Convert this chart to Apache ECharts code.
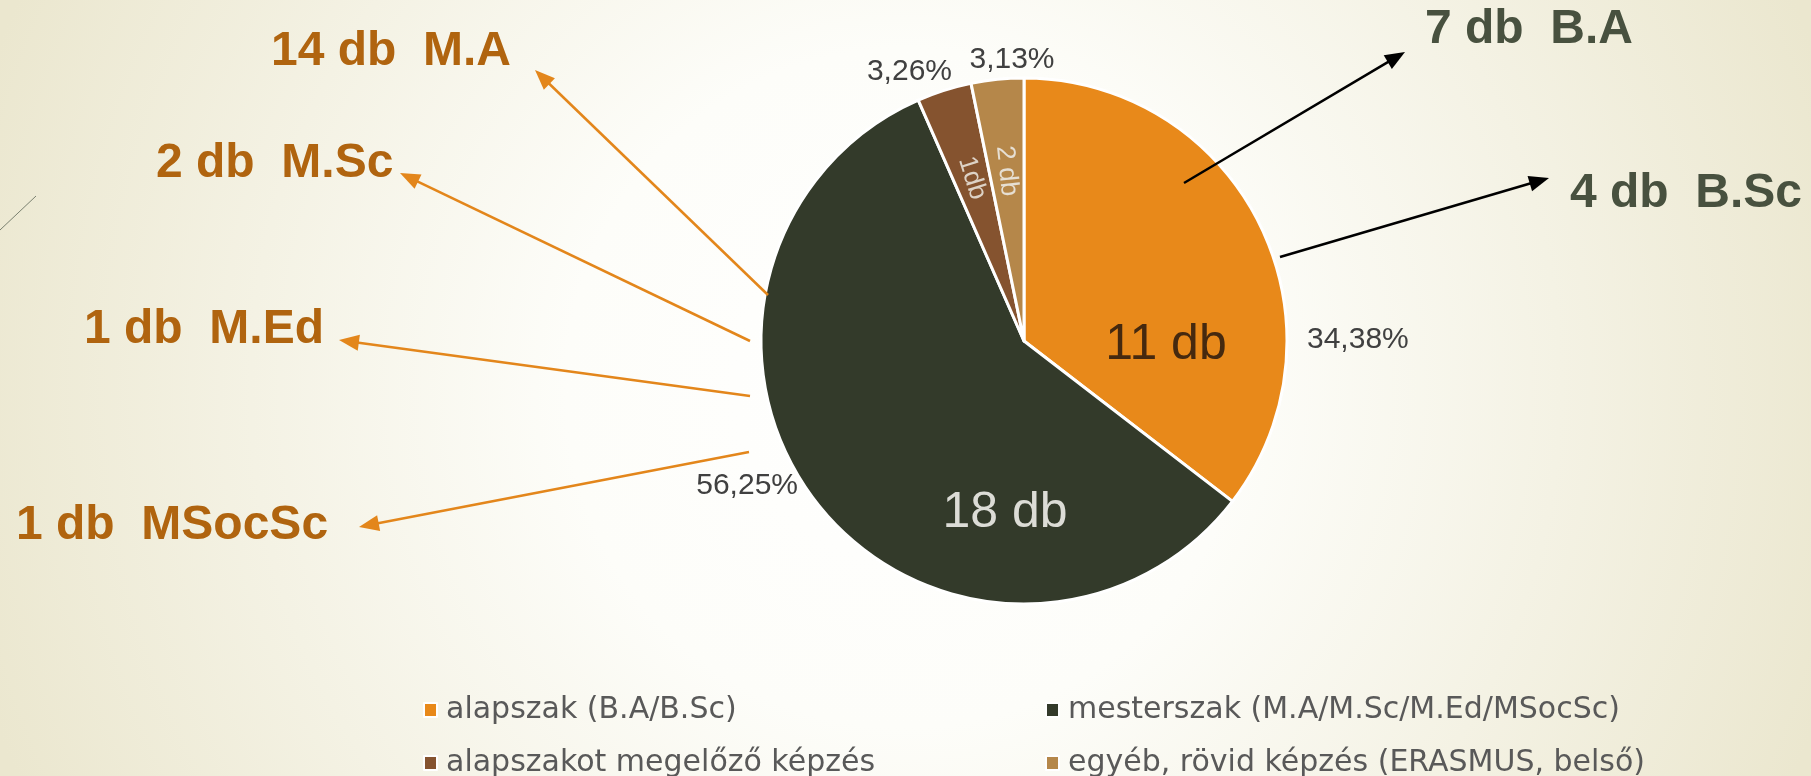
<!DOCTYPE html>
<html><head><meta charset="utf-8">
<script src="https://cdn.jsdelivr.net/npm/echarts@6/dist/echarts.min.js"></script>
<style>html,body{margin:0;padding:0;background:#fff;}#c{width:1811px;height:776px;}</style>
</head><body><div id="c"></div>
<script>
// ---- data ----
const categories = ['alapszak (B.A/B.Sc)', 'mesterszak (M.A/M.Sc/M.Ed/MSocSc)', 'alapszakot megelőző képzés', 'egyéb, rövid képzés (ERASMUS, belső)'];
const shares = [34.38, 56.25, 3.26, 3.13];
const countLabels = ['11 db', '18 db', '1db', '2 db'];
const masterNotes = ['14 db  M.A', '2 db  M.Sc', '1 db  M.Ed', '1 db  MSocSc'];
const bachelorNotes = ['7 db  B.A', '4 db  B.Sc'];

// ---- styling / layout ----
const colors = ['#E8891A', '#333A2A', '#85532F', '#B5874A'];
const CX = 1024, CY = 341, R = 263;
const insideOffsets = [[142, 4], [-19, 172], null, null];
const insideColors = ['#45290f', '#dcdcd6', '#ddd2c6', '#e6dfd3'];
const outerPos = [[1307, 340, 'left'], [798, 486, 'right'], [952, 72, 'right'], [1012, 60, 'center']];
const masterArrows = [[768, 295, 535, 70], [750, 341, 400, 173], [750, 396, 339, 340], [749, 452, 359, 527]];
const masterTextPos = [[271, 52], [156, 164], [84, 330], [16, 526]];
const bachelorArrows = [[1184, 183, 1405, 52], [1280, 257, 1549, 178]];
const bachelorTextPos = [[1425, 30], [1570, 194]];
const legendPos = [[418, 690], [1040, 690], [418, 743], [1040, 743]];

const total = shares.reduce((a, b) => a + b, 0);
const midAngles = [];
let acc = 0;
shares.forEach(v => { midAngles.push((acc + v / 2) / total * 360); acc += v; });

function arrow(a, color) {
  const [x1, y1, x2, y2] = a;
  const dx = x2 - x1, dy = y2 - y1, len = Math.hypot(dx, dy);
  const ux = dx / len, uy = dy / len, L = 20, W = 8;
  const bx = x2 - ux * L, by = y2 - uy * L;
  return [
    { type: 'line', silent: true, z: 100, shape: { x1, y1, x2: bx + ux * 2, y2: by + uy * 2 }, style: { stroke: color, lineWidth: 2.5 } },
    { type: 'polygon', silent: true, z: 100, shape: { points: [[x2, y2], [bx - uy * W, by + ux * W], [bx + uy * W, by - ux * W]] }, style: { fill: color } }
  ];
}

const graphics = [
  { type: 'line', silent: true, shape: { x1: 36, y1: 196, x2: 0, y2: 230 }, style: { stroke: '#7a8070', lineWidth: 1 } }
];
masterArrows.forEach(a => graphics.push(...arrow(a, '#E3861B')));
bachelorArrows.forEach(a => graphics.push(...arrow(a, '#000000')));
masterNotes.forEach((t, i) => graphics.push({
  type: 'text', silent: true, z: 100, x: masterTextPos[i][0], y: masterTextPos[i][1],
  style: { text: t, fill: '#B0640F', font: 'bold 48px "Liberation Sans", Arial, sans-serif', textVerticalAlign: 'middle', textAlign: 'left' }
}));
bachelorNotes.forEach((t, i) => graphics.push({
  type: 'text', silent: true, z: 100, x: bachelorTextPos[i][0], y: bachelorTextPos[i][1],
  style: { text: t, fill: '#48513F', font: 'bold 48px "Liberation Sans", Arial, sans-serif', textVerticalAlign: 'middle', textAlign: 'left' }
}));

const pieData = categories.map((n, i) => ({ name: n, value: shares[i], itemStyle: { color: colors[i] } }));

const legends = categories.map((n, i) => ({
  data: [n], left: legendPos[i][0], top: legendPos[i][1], orient: 'horizontal',
  icon: 'rect', itemWidth: 13, itemHeight: 14,
  itemStyle: { borderColor: '#ffffff', borderWidth: 2 },
  selectedMode: false,
  textStyle: { fontFamily: '"DejaVu Sans", sans-serif', fontSize: 30, color: '#595959', lineHeight: 30, padding: [0, 0, 0, 4] }
}));

const chart = echarts.init(document.getElementById('c'));
chart.setOption({
  animation: false,
  backgroundColor: {
    type: 'radial', x: 0.5, y: 0.5, r: 1.25,
    colorStops: [{ offset: 0, color: '#ffffff' }, { offset: 0.35, color: '#fdfdf9' }, { offset: 1, color: '#ebe7cf' }]
  },
  legend: legends,
  graphic: graphics,
  series: [
    {
      type: 'pie', center: [CX, CY], radius: R, startAngle: 90, clockwise: true,
      avoidLabelOverlap: false, silent: true,
      itemStyle: { borderColor: '#ffffff', borderWidth: 3 },
      emphasis: { disabled: true },
      labelLine: { show: false },
      label: {
        show: true, position: 'inside',
        formatter: p => countLabels[p.dataIndex],
        fontFamily: '"Liberation Sans", Arial, sans-serif'
      },
      labelLayout: function (p) {
        const i = p.dataIndex;
        const base = { align: 'center', verticalAlign: 'middle' };
        if (insideOffsets[i]) {
          return Object.assign(base, { x: CX + insideOffsets[i][0], y: CY + insideOffsets[i][1], fontSize: 50 });
        }
        const a = midAngles[i] * Math.PI / 180, rr = 0.65 * R;
        const rot = -(((midAngles[i] + 90) % 360));
        return Object.assign(base, { x: CX + Math.sin(a) * rr, y: CY - Math.cos(a) * rr, rotate: rot, fontSize: 26 });
      },
      data: pieData.map((d, i) => Object.assign({}, d, { label: { color: insideColors[i] } }))
    },
    {
      type: 'pie', center: [CX, CY], radius: R, startAngle: 90, clockwise: true,
      avoidLabelOverlap: false, silent: true,
      itemStyle: { color: 'rgba(0,0,0,0)', borderWidth: 0 },
      emphasis: { disabled: true },
      labelLine: { show: false },
      label: {
        show: true, position: 'outside', color: '#404040', fontSize: 30,
        fontFamily: '"Liberation Sans", Arial, sans-serif',
        formatter: p => p.value.toFixed(2).replace('.', ',') + '%'
      },
      labelLayout: function (p) {
        const o = outerPos[p.dataIndex];
        return { x: o[0], y: o[1], align: o[2], verticalAlign: 'middle' };
      },
      data: categories.map((n, i) => ({ name: n, value: shares[i] }))
    }
  ]
});
</script>
</body></html>
